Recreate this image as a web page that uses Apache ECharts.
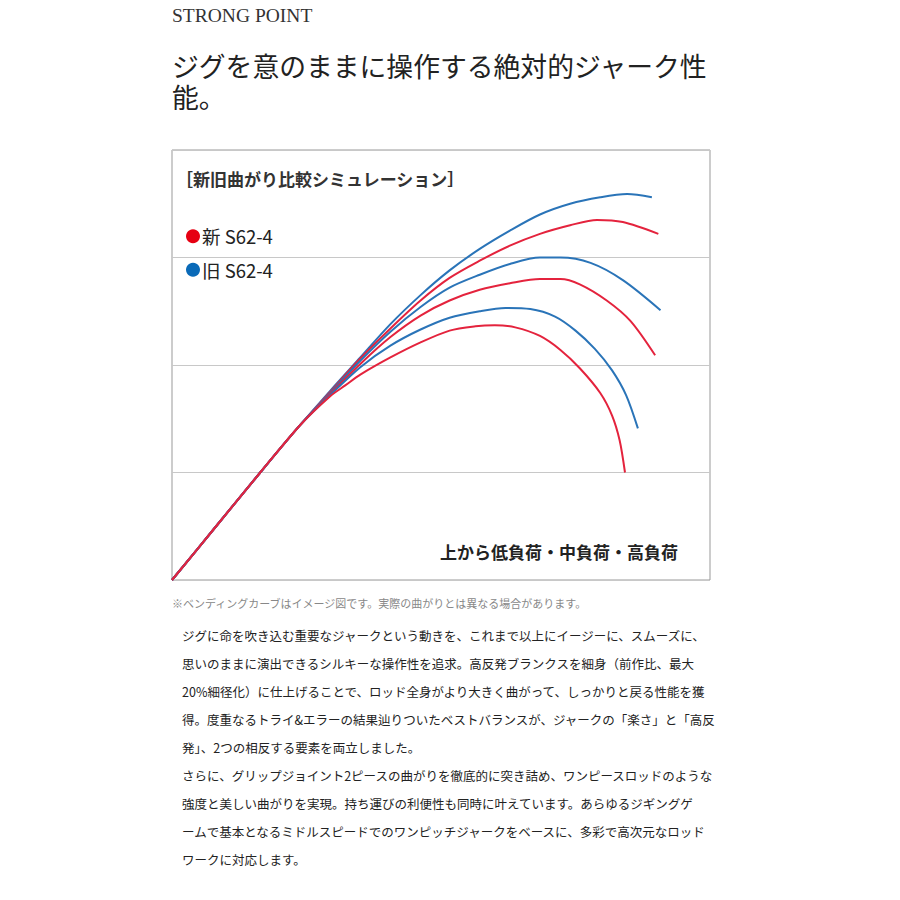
<!DOCTYPE html>
<html>
<head>
<meta charset="utf-8">
<script src="https://cdn.jsdelivr.net/npm/echarts@6/dist/echarts.min.js"></script>
<style>
html,body{margin:0;padding:0;background:#fff;}
#chart{width:900px;height:900px;}
</style>
</head>
<body>
<div id="chart"></div>
<script>
// ---- data (chart units: x 0..5, y 0..4, one grid band = 1 unit) ----
const seriesNames = ['新 S62-4', '旧 S62-4'];
const loadLevels = ['低負荷', '中負荷', '高負荷'];
const yTicks = [0, 1, 2, 3, 4];

const commonStart = [[0,0],[0.41,0.50],[0.82,1.00],[1.19,1.44]];

const oldLow  = [[1.47,1.76],[1.75,2.07],[2.03,2.38],[2.31,2.65],[2.58,2.88],[2.86,3.08],[3.14,3.25],[3.42,3.40],[3.70,3.50],[3.98,3.56],[4.23,3.59],[4.46,3.56]];
const newLow  = [[1.47,1.75],[1.75,2.06],[2.03,2.34],[2.31,2.60],[2.58,2.81],[2.86,2.97],[3.14,3.11],[3.42,3.22],[3.70,3.30],[3.95,3.35],[4.19,3.33],[4.52,3.22]];
const oldMid  = [[1.47,1.74],[1.75,2.04],[2.03,2.31],[2.31,2.54],[2.58,2.72],[2.86,2.84],[3.14,2.94],[3.42,3.00],[3.61,3.00],[3.89,2.95],[4.19,2.79],[4.54,2.51]];
const newMid  = [[1.47,1.73],[1.75,2.01],[2.03,2.26],[2.31,2.46],[2.58,2.60],[2.86,2.70],[3.14,2.76],[3.42,2.80],[3.61,2.80],[3.79,2.75],[4.04,2.60],[4.26,2.41],[4.49,2.09]];
const oldHigh = [[1.47,1.72],[1.75,1.98],[2.03,2.18],[2.31,2.33],[2.58,2.44],[2.86,2.50],[3.10,2.53],[3.33,2.52],[3.56,2.45],[3.75,2.32],[3.93,2.15],[4.09,1.95],[4.22,1.72],[4.33,1.41]];
const newHigh = [[1.47,1.71],[1.61,1.81],[1.75,1.91],[2.03,2.07],[2.31,2.21],[2.58,2.32],[2.82,2.36],[3.00,2.37],[3.19,2.35],[3.42,2.27],[3.61,2.14],[3.79,1.97],[3.98,1.74],[4.09,1.53],[4.16,1.30],[4.21,1.00]];

const headerText = 'STRONG POINT';
const headingLines = ['ジグを意のままに操作する絶対的ジャーク性', '能。'];
const chartTitle = '［新旧曲がり比較シミュレーション］';
const loadNote = '上から' + loadLevels.join('・');
const footnote = '※ベンディングカーブはイメージ図です。実際の曲がりとは異なる場合があります。';
const bodyLines = [
  'ジグに命を吹き込む重要なジャークという動きを、これまで以上にイージーに、スムーズに、',
  '思いのままに演出できるシルキーな操作性を追求。高反発ブランクスを細身（前作比、最大',
  '20%細径化）に仕上げることで、ロッド全身がより大きく曲がって、しっかりと戻る性能を獲',
  '得。度重なるトライ&エラーの結果辿りついたベストバランスが、ジャークの「楽さ」と「高反',
  '発」、2つの相反する要素を両立しました。',
  'さらに、グリップジョイント2ピースの曲がりを徹底的に突き詰め、ワンピースロッドのような',
  '強度と美しい曲がりを実現。持ち運びの利便性も同時に叶えています。あらゆるジギングゲ',
  'ームで基本となるミドルスピードでのワンピッチジャークをベースに、多彩で高次元なロッド',
  'ワークに対応します。'
];

// ---- styles ----
const RED = '#e4233d';
const BLUE = '#2a74b8';
const JP = '"Noto Sans CJK JP", "Noto Sans", sans-serif';

function mk(name, color, pts) {
  return {
    type: 'line',
    name: name,
    data: commonStart.concat(pts),
    smooth: 0.3,
    showSymbol: false,
    symbol: 'none',
    lineStyle: { color: color, width: 2 },
    itemStyle: { color: color },
    emphasis: { disabled: true },
    silent: true
  };
}

const chart = echarts.init(document.getElementById('chart'), null, { renderer: 'svg' });
chart.setOption({
  animation: false,
  backgroundColor: '#fff',
  grid: { left: 172, top: 150, width: 538, height: 430, show: true, borderColor: '#999', borderWidth: 1, backgroundColor: 'transparent' },
  xAxis: {
    type: 'value', min: 0, max: 5,
    axisLine: { show: false }, axisTick: { show: false }, axisLabel: { show: false }, splitLine: { show: false }
  },
  yAxis: {
    type: 'value', min: yTicks[0], max: yTicks[yTicks.length - 1], interval: 1,
    axisLine: { show: false }, axisTick: { show: false }, axisLabel: { show: false },
    splitLine: { show: true, lineStyle: { color: '#c8c8c8', width: 1 } }
  },
  legend: {
    orient: 'vertical', left: 186, top: 227, itemGap: 15, padding: 0,
    icon: 'circle', itemWidth: 14, itemHeight: 14,
    selectedMode: false,
    textStyle: { fontFamily: JP, fontSize: 18.5, color: '#222', padding: [0, 0, 0, -3] },
    data: [
      { name: seriesNames[0], itemStyle: { color: '#e60012' } },
      { name: seriesNames[1], itemStyle: { color: '#0a6ab8' } }
    ]
  },
  series: [
    mk(seriesNames[1], BLUE, oldLow),
    mk(seriesNames[0], RED, newLow),
    mk(seriesNames[1], BLUE, oldMid),
    mk(seriesNames[0], RED, newMid),
    mk(seriesNames[1], BLUE, oldHigh),
    mk(seriesNames[0], RED, newHigh)
  ],
  graphic: [
    { type: 'text', x: 172, y: 15, style: { text: headerText, font: '19.5px "Liberation Serif", "DejaVu Serif", serif', fill: '#333', verticalAlign: 'middle' } },
    { type: 'text', x: 172, y: 65, style: { text: headingLines[0], font: '26.8px ' + JP, fill: '#222', verticalAlign: 'middle', lineHeight: 28 } },
    { type: 'text', x: 172, y: 96, style: { text: headingLines[1], font: '26.8px ' + JP, fill: '#222', verticalAlign: 'middle', lineHeight: 28 } },
    { type: 'text', x: 176, y: 178, style: { text: chartTitle, font: 'bold 17px ' + JP, fill: '#333', verticalAlign: 'middle' } },
    { type: 'text', x: 678, y: 551, style: { text: loadNote, font: 'bold 17px ' + JP, fill: '#222', align: 'right', verticalAlign: 'middle' } },
    { type: 'text', x: 172, y: 603, style: { text: footnote, font: '11px ' + JP, fill: '#888', verticalAlign: 'middle' } },
    { type: 'text', x: 182, y: 621, style: { text: bodyLines.join('\n'), font: '12.5px ' + JP, fill: '#222', lineHeight: 28, verticalAlign: 'top' } }
  ]
});
</script>
</body>
</html>
